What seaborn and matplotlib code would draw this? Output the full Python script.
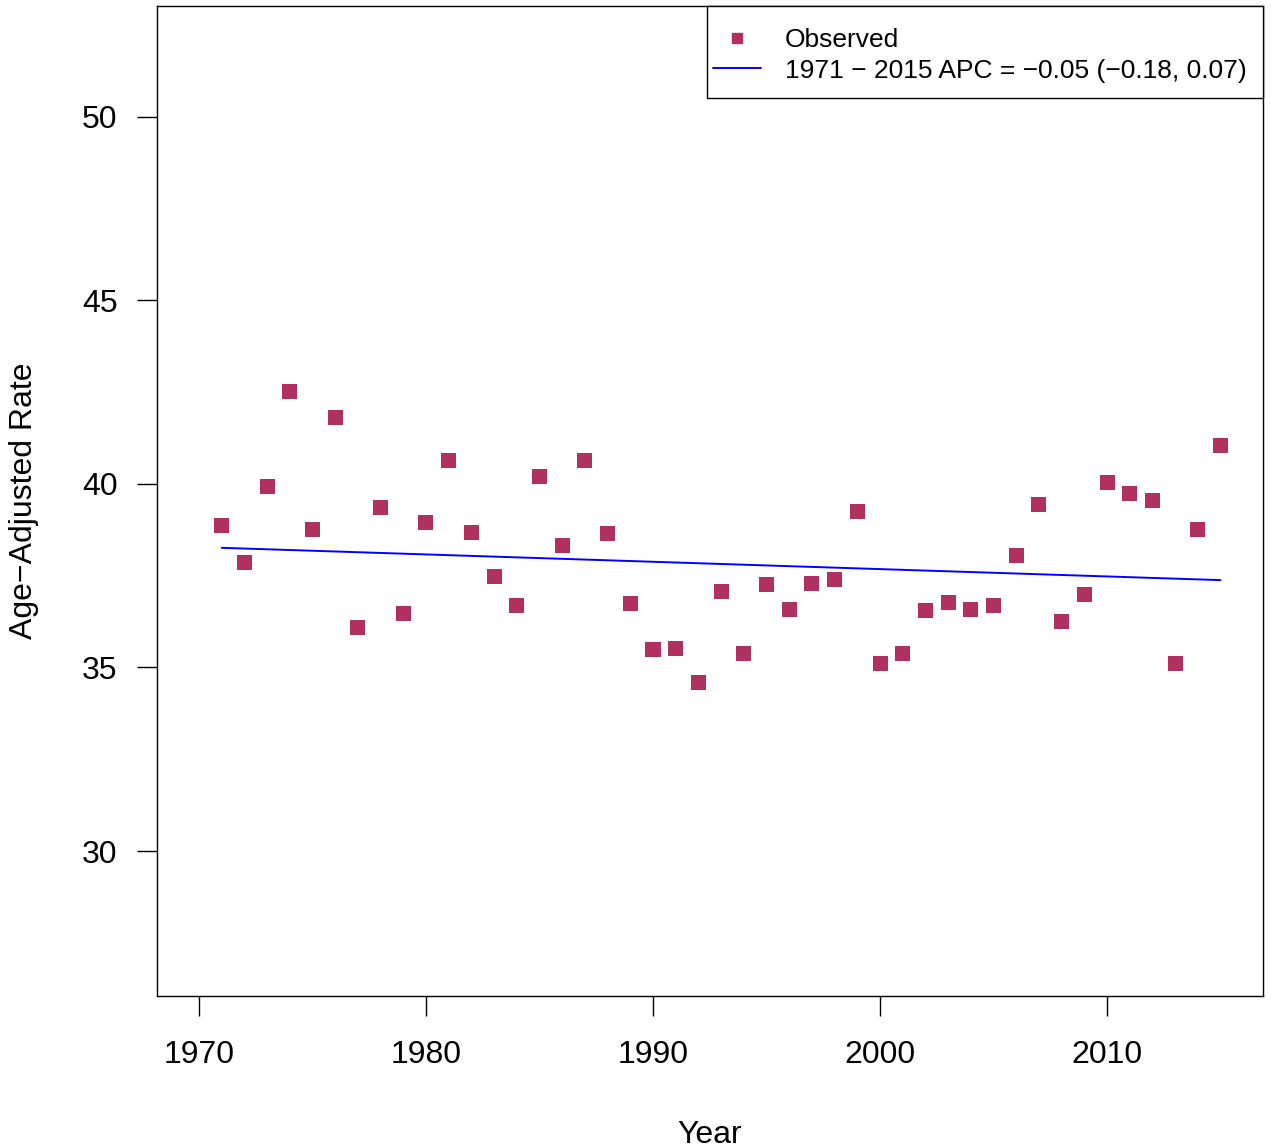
#!/usr/bin/env python3
"""
Age-adjusted rate by year, observed points with the joinpoint fit.
"""

import matplotlib
matplotlib.use("Agg")
import matplotlib.pyplot as plt
import seaborn as sns
import pandas as pd
from matplotlib.lines import Line2D
from matplotlib.patches import Rectangle

# Dati osservati
years = list(range(1971, 2016))
observed = [38.88, 37.87, 39.92, 42.53, 38.77, 41.80, 36.08, 39.35, 36.46, 38.96,
            40.63, 38.69, 37.47, 36.70, 40.19, 38.31, 40.63, 38.64, 36.73, 35.48,
            35.53, 34.60, 37.08, 35.37, 37.25, 36.59, 37.28, 37.41, 39.24, 35.10,
            35.37, 36.54, 36.76, 36.59, 36.68, 38.04, 39.45, 36.24, 36.98, 40.05,
            39.73, 39.56, 35.10, 38.75, 41.04]

# Retta del modello (estremi)
fit_years = [1971, 2015]
fit_values = [38.26, 37.38]

x_ticks = [1970, 1980, 1990, 2000, 2010]
y_ticks = [30, 35, 40, 45, 50]
fit_label = "1971 \u2212 2015 APC = \u22120.05 (\u22120.18, 0.07)"

df = pd.DataFrame({"Year": years, "Rate": observed})
fit_df = pd.DataFrame({"Year": fit_years, "Rate": fit_values})

sns.set_theme(style="white")
plt.rcParams["font.family"] = ["Liberation Sans", "DejaVu Sans"]
for key in ["text.color", "axes.labelcolor", "xtick.color", "ytick.color"]:
    plt.rcParams[key] = "black"

fig = plt.figure(figsize=(12.71, 11.47), dpi=100)
ax = fig.add_axes([0.1235, 0.1316, 0.8702, 0.8632])

maroon = "#B03060"
sns.scatterplot(data=df, x="Year", y="Rate", ax=ax, marker="s", s=117,
                color=maroon, edgecolor="none", linewidth=0, legend=False)
sns.lineplot(data=fit_df, x="Year", y="Rate", ax=ax, color="blue",
             linewidth=1.4, legend=False)

ax.set_xlim(1968.15, 2016.87)
ax.set_ylim(26.05, 53.02)
ax.set_xticks(x_ticks)
ax.set_yticks(y_ticks)
ax.tick_params(axis="both", direction="out", length=14.4, width=1.0,
               color="black", labelsize=23, pad=14, bottom=True, left=True)
ax.tick_params(axis="x", pad=17)

for spine in ax.spines.values():
    spine.set_visible(True)
    spine.set_color("black")
    spine.set_linewidth(1.0)

ax.set_xlabel("Year", fontsize=23, labelpad=36)
ax.set_ylabel("Age\u2212Adjusted Rate", fontsize=23, labelpad=31)

# Cornice della legenda, stile R
box_left = (707 - 157) / 1106
box_bottom = (996 - 98) / 990
ax.add_patch(Rectangle((box_left, box_bottom), 1 - box_left, 1 - box_bottom,
                       transform=ax.transAxes, facecolor="white",
                       edgecolor="black", linewidth=1.0, zorder=4,
                       clip_on=False))

handles = [
    Line2D([], [], marker="s", linestyle="none", color=maroon, markersize=7.2),
    Line2D([], [], color="blue", linewidth=1.4),
]
leg = ax.legend(handles, ["Observed", fit_label], loc="upper left",
                bbox_to_anchor=((713 - 157) / 1106, (996 - 28) / 990),
                borderaxespad=0, borderpad=0, frameon=False, fontsize=19,
                handlelength=1.82, handletextpad=0.91, labelspacing=0.25)
leg.set_zorder(5)

fig.savefig("out.png", dpi=100)
